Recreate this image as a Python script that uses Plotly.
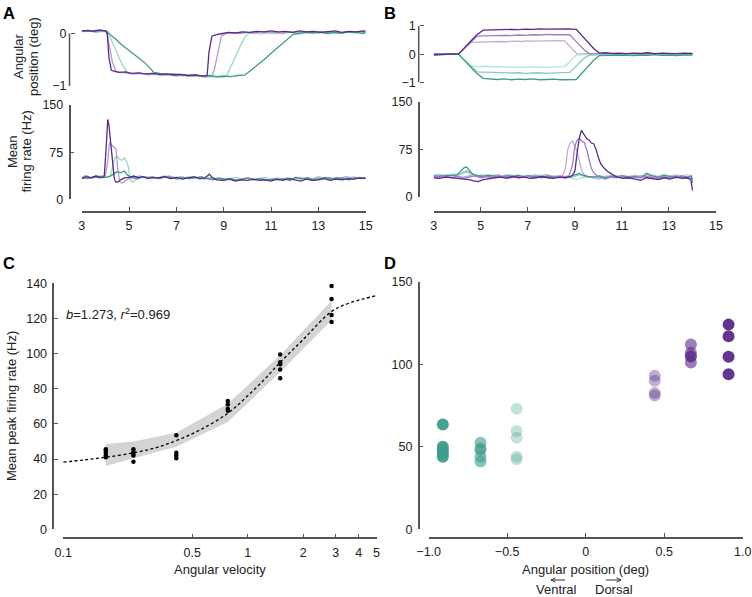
import math
import plotly.graph_objects as go

W, H = 752, 597
FONT = "Liberation Sans, Arial, Helvetica, sans-serif"
AX = "#555555"
TXT = "#222222"

# ---------------- colours ----------------
DP = "#5b2a86"   # dark purple
MP = "#9d7cc6"   # medium purple
LP = "#c3acdd"   # light purple
LT = "#b7e1d8"   # light teal
MT = "#86cbbd"   # medium teal
TE = "#3f9c8c"   # teal
A_LP = "#b39ad2"
A_LT = "#9fd6ca"

# ---------------- Panel A, angular position (deg) ----------------
a_pos_t_dp = [3.0,3.25,3.5,3.75,4.0,4.08,4.15,4.25,4.4,4.6,4.85,5.1,5.4,5.7,6.0,6.3,6.6,6.9,7.2,7.5,7.8,8.1,8.3,8.38,8.5,8.7,8.95,9.2,9.5,9.8,10.1,10.4,10.7,11.0,11.3,11.6,11.9,12.2,12.5,12.8,13.1,13.4,13.7,14.0,14.3,14.6,14.9,15.0]
a_pos_dp = [0.05,0.06,0.04,0.07,0.05,0.0,-0.45,-0.70,-0.72,-0.74,-0.73,-0.76,-0.75,-0.77,-0.76,-0.78,-0.77,-0.79,-0.78,-0.80,-0.79,-0.81,-0.80,-0.35,-0.05,-0.02,0.0,0.02,0.01,0.03,0.02,0.04,0.03,0.05,0.03,0.04,0.02,0.05,0.03,0.04,0.02,0.03,0.05,0.02,0.04,0.03,0.05,0.04]

a_pos_t_lp = [3.0,3.3,3.6,3.9,4.05,4.2,4.3,4.45,4.6,4.9,5.2,5.5,5.8,6.1,6.4,6.7,7.0,7.3,7.6,7.9,8.2,8.5,8.6,8.75,8.9,9.1,9.4,9.7,10.0,10.3,10.6,10.9,11.2,11.5,11.8,12.1,12.4,12.7,13.0,13.3,13.6,13.9,14.2,14.5,14.8,15.0]
a_pos_lp = [0.04,0.06,0.03,0.05,0.04,-0.3,-0.55,-0.73,-0.74,-0.75,-0.77,-0.76,-0.78,-0.77,-0.79,-0.78,-0.8,-0.79,-0.81,-0.8,-0.82,-0.81,-0.7,-0.38,-0.05,0.0,0.01,0.0,0.02,0.01,0.03,0.01,0.02,0.0,0.03,0.01,0.02,0.04,0.01,0.03,0.02,0.0,0.03,0.02,0.04,0.03]

a_pos_t_lt = [3.0,3.3,3.6,3.9,4.1,4.3,4.5,4.7,4.95,5.2,5.5,5.8,6.1,6.4,6.7,7.0,7.3,7.6,7.9,8.2,8.5,8.8,9.1,9.3,9.5,9.7,9.9,10.05,10.3,10.6,10.9,11.2,11.5,11.8,12.1,12.4,12.7,13.0,13.3,13.6,13.9,14.2,14.5,14.8,15.0]
a_pos_lt = [0.03,0.05,0.02,0.04,0.03,-0.18,-0.38,-0.58,-0.76,-0.77,-0.76,-0.79,-0.78,-0.8,-0.79,-0.81,-0.8,-0.82,-0.81,-0.83,-0.82,-0.84,-0.82,-0.64,-0.44,-0.24,-0.06,0.0,0.01,-0.01,0.02,0.0,0.01,0.03,0.0,0.02,0.01,0.03,0.0,0.02,0.01,0.03,0.01,0.02,0.01]

a_pos_t_te = [3.0,3.3,3.6,3.9,4.05,4.25,4.45,4.65,4.85,5.05,5.25,5.45,5.65,5.85,6.05,6.3,6.6,6.9,7.2,7.5,7.8,8.1,8.4,8.7,9.0,9.3,9.6,9.9,10.1,10.3,10.5,10.7,10.9,11.1,11.3,11.5,11.7,11.95,12.2,12.5,12.8,13.1,13.4,13.7,14.0,14.3,14.6,14.9,15.0]
a_pos_te = [0.05,0.04,0.06,0.05,0.05,-0.04,-0.11,-0.2,-0.27,-0.33,-0.4,-0.47,-0.55,-0.64,-0.74,-0.76,-0.78,-0.77,-0.79,-0.8,-0.79,-0.81,-0.8,-0.82,-0.81,-0.82,-0.8,-0.79,-0.72,-0.64,-0.57,-0.5,-0.41,-0.34,-0.26,-0.18,-0.1,-0.01,0.0,0.02,0.01,0.03,0.0,0.02,0.01,0.03,0.02,0.0,0.02]

# ---------------- Panel A, mean firing rate (Hz) ----------------
a_fr_t_dp = [3.0,3.2,3.4,3.6,3.8,3.95,4.03,4.1,4.15,4.22,4.3,4.38,4.45,4.55,4.65,4.8,5.0,5.2,5.4,5.6,5.8,6.0,6.25,6.5,6.75,7.0,7.25,7.5,7.75,8.0,8.2,8.4,8.5,8.7,9.0,9.25,9.5,9.75,10.0,10.25,10.5,10.75,11.0,11.25,11.5,11.75,12.0,12.25,12.5,12.75,13.0,13.25,13.5,13.75,14.0,14.25,14.5,14.75,15.0]
a_fr_dp = [33,36,34,37,35,36,80,127,118,95,60,32,27,28,31,34,35,37,34,36,33,35,34,36,33,35,32,34,36,33,34,40,35,31,30,32,29,31,30,32,30,31,29,32,30,33,31,29,32,30,31,33,30,32,31,33,32,34,33]

a_fr_t_lp = [3.0,3.2,3.4,3.6,3.8,4.0,4.1,4.17,4.22,4.3,4.38,4.45,4.52,4.6,4.7,4.85,5.0,5.2,5.45,5.7,5.95,6.2,6.45,6.7,6.95,7.2,7.45,7.7,7.95,8.2,8.45,8.7,8.95,9.2,9.45,9.7,9.95,10.2,10.45,10.7,10.95,11.2,11.45,11.7,11.95,12.2,12.45,12.7,12.95,13.2,13.45,13.7,13.95,14.2,14.45,14.7,15.0]
a_fr_lp = [35,38,34,37,36,38,60,90,88,85,82,80,50,28,26,30,33,35,37,34,36,33,35,37,34,36,33,35,34,32,34,33,31,33,30,32,34,31,33,32,30,33,31,34,32,35,33,31,34,33,35,32,34,36,33,35,34]

a_fr_t_lt = [3.0,3.2,3.4,3.6,3.8,4.0,4.2,4.3,4.4,4.5,4.6,4.7,4.8,4.9,4.97,5.05,5.15,5.3,5.5,5.75,6.0,6.25,6.5,6.75,7.0,7.25,7.5,7.75,8.0,8.25,8.5,8.75,9.0,9.25,9.5,9.75,10.0,10.25,10.5,10.75,11.0,11.25,11.5,11.75,12.0,12.25,12.5,12.75,13.0,13.25,13.5,13.75,14.0,14.25,14.5,14.75,15.0]
a_fr_lt = [34,36,33,35,37,35,36,50,66,68,64,62,66,60,52,30,27,31,34,36,33,35,37,34,35,33,36,34,32,35,33,34,31,33,35,32,34,31,33,35,32,34,33,31,34,32,35,33,36,34,32,35,33,34,36,33,35]

a_fr_t_te = [3.0,3.25,3.5,3.75,4.0,4.2,4.35,4.5,4.65,4.8,4.95,5.1,5.3,5.55,5.8,6.05,6.3,6.55,6.8,7.05,7.3,7.55,7.8,8.05,8.3,8.55,8.8,9.05,9.3,9.55,9.8,10.05,10.3,10.55,10.8,11.05,11.3,11.55,11.8,12.05,12.3,12.55,12.8,13.05,13.3,13.55,13.8,14.05,14.3,14.55,14.8,15.0]
a_fr_te = [35,33,36,34,35,37,40,44,42,45,38,35,33,36,34,35,33,36,34,32,35,33,34,36,33,31,34,32,33,30,32,34,31,33,30,32,31,33,30,35,32,34,31,33,35,32,34,33,31,34,33,35]

# ---------------- Panel B, angular position (deg) ----------------
b_pos_t_1 = [3.0,3.3,3.6,3.9,4.05,4.3,4.55,4.8,5.1,5.4,5.7,6.0,6.3,6.6,6.9,7.2,7.5,7.8,8.1,8.4,8.7,9.06,9.3,9.55,9.8,10.05,10.3,10.6,10.9,11.2,11.5,11.8,12.1,12.4,12.7,13.0,13.3,13.6,13.9,14.0]
b_pos_t_2 = [3.0,3.3,3.6,3.9,4.05,4.3,4.55,4.85,5.1,5.4,5.7,6.0,6.3,6.6,6.9,7.2,7.5,7.8,8.1,8.4,8.78,9.0,9.2,9.4,9.62,9.9,10.2,10.5,10.8,11.1,11.4,11.7,12.0,12.3,12.6,12.9,13.2,13.5,13.8,14.0]
b_pos_t_3 = [3.0,3.3,3.6,3.9,4.05,4.3,4.6,4.9,5.2,5.5,5.8,6.1,6.4,6.7,7.0,7.3,7.6,7.9,8.2,8.57,8.75,8.9,9.08,9.3,9.6,9.9,10.2,10.5,10.8,11.1,11.4,11.7,12.0,12.3,12.6,12.9,13.2,13.5,13.8,14.0]
b_pos_dp = [-0.03,-0.01,0.0,0.01,0.0,0.22,0.42,0.66,0.85,0.86,0.87,0.86,0.88,0.87,0.89,0.88,0.9,0.89,0.9,0.89,0.9,0.88,0.66,0.42,0.2,0.04,0.05,0.03,0.04,0.02,0.04,0.03,0.05,0.02,0.04,0.03,0.02,0.04,0.03,0.03]
b_pos_mp = [-0.02,0.0,0.01,0.0,0.0,0.2,0.41,0.64,0.65,0.66,0.65,0.67,0.66,0.68,0.67,0.69,0.68,0.7,0.69,0.7,0.69,0.5,0.32,0.15,0.02,0.01,0.02,0.0,0.01,0.02,0.0,0.01,0.02,0.01,0.0,0.02,0.01,0.0,0.02,0.01]
b_pos_lp = [0.0,0.01,-0.01,0.01,0.0,0.2,0.42,0.43,0.44,0.43,0.45,0.44,0.46,0.45,0.47,0.46,0.47,0.46,0.48,0.47,0.3,0.15,0.02,0.01,0.02,0.0,0.01,0.02,0.0,0.01,0.02,0.0,0.01,0.02,0.0,0.01,0.02,0.01,0.0,0.01]
b_pos_lt = [0.0,-0.01,0.01,0.0,0.0,-0.2,-0.42,-0.44,-0.43,-0.45,-0.44,-0.46,-0.45,-0.47,-0.46,-0.45,-0.47,-0.46,-0.45,-0.44,-0.3,-0.15,-0.03,-0.02,-0.01,-0.02,0.0,-0.01,-0.02,0.0,-0.01,-0.02,0.0,-0.01,-0.02,0.0,-0.01,-0.02,0.0,-0.01]
b_pos_mt = [0.01,0.0,-0.01,0.0,0.0,-0.2,-0.41,-0.63,-0.64,-0.65,-0.66,-0.65,-0.67,-0.66,-0.68,-0.67,-0.66,-0.68,-0.67,-0.66,-0.65,-0.48,-0.3,-0.14,-0.03,-0.02,-0.03,-0.01,-0.02,-0.03,-0.01,-0.02,-0.03,-0.01,-0.02,-0.03,-0.01,-0.02,-0.03,-0.02]
b_pos_te = [0.01,0.0,-0.01,0.0,0.0,-0.22,-0.43,-0.66,-0.86,-0.87,-0.9,-0.88,-0.91,-0.89,-0.9,-0.88,-0.91,-0.9,-0.89,-0.91,-0.9,-0.9,-0.68,-0.45,-0.22,-0.05,-0.04,-0.05,-0.03,-0.04,-0.05,-0.03,-0.04,-0.02,-0.04,-0.03,-0.05,-0.03,-0.04,-0.03]

# ---------------- Panel B, mean firing rate (Hz) ----------------
b_fr_t_teal = [3.0,3.25,3.5,3.75,4.0,4.15,4.3,4.4,4.5,4.6,4.75,4.9,5.1,5.35,5.6,5.85,6.1,6.35,6.6,6.85,7.1,7.35,7.6,7.85,8.1,8.35,8.6,8.85,9.05,9.2,9.35,9.55,9.8,10.05,10.3,10.55,10.8,11.05,11.3,11.55,11.8,12.05,12.3,12.55,12.8,13.05,13.3,13.55,13.8,13.95,14.0]
b_fr_te = [33,32,34,33,35,40,46,47,43,38,34,33,32,34,33,31,33,32,34,31,33,32,30,33,31,32,30,33,35,37,34,32,31,33,30,32,31,33,31,32,30,37,33,31,34,32,30,33,31,33,22]
b_fr_mt = [32,34,33,35,34,37,40,41,39,36,34,32,33,31,33,32,34,33,31,33,32,34,31,33,32,30,32,31,33,35,33,31,32,30,32,31,33,30,32,31,33,34,32,30,32,31,33,32,30,32,28]
b_fr_lt = [34,35,33,36,34,36,38,39,37,35,34,33,35,33,34,32,35,33,34,32,33,35,33,34,32,33,31,29,28,29,30,32,31,33,32,34,31,33,32,34,33,32,34,33,35,32,34,33,35,33,30]

b_fr_t_lp = [3.0,3.25,3.5,3.75,4.0,4.25,4.5,4.75,5.0,5.25,5.5,5.75,6.0,6.25,6.5,6.75,7.0,7.25,7.5,7.75,8.0,8.25,8.5,8.6,8.7,8.8,8.9,9.0,9.1,9.2,9.3,9.45,9.6,9.8,10.0,10.25,10.5,10.75,11.0,11.25,11.5,11.75,12.0,12.25,12.5,12.75,13.0,13.25,13.5,13.75,14.0]
b_fr_lp = [33,35,32,34,33,31,33,35,32,34,33,35,32,34,33,31,34,32,33,35,33,32,34,45,75,85,88,80,72,55,40,33,31,30,28,31,33,32,34,31,33,32,34,33,31,33,32,34,33,32,30]

b_fr_t_mp = [3.0,3.25,3.5,3.75,4.0,4.25,4.5,4.75,5.0,5.25,5.5,5.75,6.0,6.25,6.5,6.75,7.0,7.25,7.5,7.75,8.0,8.25,8.5,8.75,8.9,9.0,9.1,9.2,9.3,9.4,9.5,9.6,9.7,9.8,9.95,10.1,10.3,10.5,10.75,11.0,11.25,11.5,11.75,12.0,12.25,12.5,12.75,13.0,13.25,13.5,13.75,14.0]
b_fr_mp = [32,31,33,30,32,29,31,33,30,32,31,33,31,30,32,31,33,30,32,31,30,32,31,33,50,80,90,92,88,86,75,60,45,38,33,30,28,31,30,32,29,31,30,32,31,29,31,30,32,31,30,28]

b_fr_t_dp = [3.0,3.25,3.5,3.75,4.0,4.25,4.5,4.7,4.9,5.1,5.35,5.6,5.85,6.1,6.35,6.6,6.85,7.1,7.35,7.6,7.85,8.1,8.35,8.6,8.85,9.0,9.1,9.2,9.28,9.38,9.5,9.6,9.7,9.8,9.9,10.0,10.1,10.25,10.4,10.6,10.8,11.05,11.3,11.55,11.8,12.05,12.3,12.55,12.8,13.05,13.3,13.55,13.8,13.93,14.0]
b_fr_dp = [30,29,31,30,29,28,27,25,24,27,29,30,31,29,32,30,31,29,30,32,30,29,31,30,32,40,70,95,105,98,92,90,85,84,75,62,52,45,40,35,31,29,30,28,26,30,29,27,30,28,31,29,30,27,10]

# ---------------- Panel C ----------------
c_velocity = [0.17, 0.24, 0.41, 0.78, 1.5, 2.85]
c_peaks = [
    [45.5, 44.5, 43.5, 42, 41],
    [45.5, 44, 43, 42, 38.5],
    [53.5, 43.5, 42, 40.5],
    [73, 71, 68.5, 67.5],
    [99.5, 95, 94, 91, 86],
    [138.5, 131, 122, 118],
]
c_band_low = [36, 40.5, 47, 61, 89.5, 119]
c_band_high = [48.5, 50, 55, 71.5, 99, 130]
c_fit_x = [0.1, 0.13, 0.17, 0.24, 0.32, 0.41, 0.55, 0.78, 1.0, 1.25, 1.5, 2.0, 2.85, 3.5, 4.2, 5.0]
c_fit_y = [38.2, 39.5, 41, 43.5, 46.5, 50.5, 56.5, 66, 76, 86, 95, 108, 124, 128.5, 131, 133]
c_ticks = [0.1, 0.5, 1, 2, 3, 4, 5]
c_ticklabels = ["0.1", "0.5", "1", "2", "3", "4", "5"]

# ---------------- Panel D ----------------
d_position = [-0.91, -0.67, -0.44, 0.44, 0.67, 0.91]
d_peaks = [
    [63.5, 50, 48, 46, 44],
    [52.5, 49, 48, 44, 41],
    [73, 59.5, 55.5, 44, 42.5],
    [93, 90, 82.5, 81],
    [112, 107, 104.5, 101, 105],
    [124, 117, 104.5, 94],
]
d_colors = ["rgba(63,156,140,0.95)", "rgba(63,156,140,0.6)", "rgba(63,156,140,0.3)",
            "rgba(91,42,134,0.38)", "rgba(91,42,134,0.6)", "rgba(91,42,134,0.95)"]
d_ticks = [-1, -0.5, 0, 0.5, 1]
d_ticklabels = ["\u22121.0", "\u22120.5", "0", "0.5", "1.0"]

# ---------------- helpers (layout only) ----------------
def px_x(p):
    return p / W

def px_y(p):
    return 1 - p / H

def dom_y(v0, p0, v1, p1, lo, hi):
    s = (p1 - p0) / (v1 - v0)
    a = p0 + (lo - v0) * s
    b = p0 + (hi - v0) * s
    return sorted([px_y(a), px_y(b)])

def dom_x(v0, p0, v1, p1, lo, hi):
    s = (p1 - p0) / (v1 - v0)
    a = p0 + (lo - v0) * s
    b = p0 + (hi - v0) * s
    return sorted([px_x(a), px_x(b)])

fig = go.Figure()

def line(t, y, color, xa, ya, width=1.3):
    fig.add_trace(go.Scatter(x=t, y=y, mode="lines", xaxis=xa, yaxis=ya,
                             line=dict(color=color, width=width), hoverinfo="skip"))

# Panel A (top and bottom share the time axis x2)
line(a_pos_t_lt, a_pos_lt, A_LT, "x2", "y")
line(a_pos_t_lp, a_pos_lp, A_LP, "x2", "y")
line(a_pos_t_te, a_pos_te, TE, "x2", "y")
line(a_pos_t_dp, a_pos_dp, DP, "x2", "y")
line(a_fr_t_lt, a_fr_lt, A_LT, "x2", "y2")
line(a_fr_t_lp, a_fr_lp, A_LP, "x2", "y2")
line(a_fr_t_te, a_fr_te, TE, "x2", "y2")
line(a_fr_t_dp, a_fr_dp, DP, "x2", "y2")

# Panel B (top and bottom share the time axis x4)
line(b_pos_t_3, b_pos_lp, LP, "x4", "y3")
line(b_pos_t_3, b_pos_lt, LT, "x4", "y3")
line(b_pos_t_2, b_pos_mp, MP, "x4", "y3")
line(b_pos_t_2, b_pos_mt, MT, "x4", "y3")
line(b_pos_t_1, b_pos_te, TE, "x4", "y3")
line(b_pos_t_1, b_pos_dp, DP, "x4", "y3")
line(b_fr_t_teal, b_fr_lt, LT, "x4", "y4")
line(b_fr_t_teal, b_fr_mt, MT, "x4", "y4")
line(b_fr_t_lp, b_fr_lp, LP, "x4", "y4")
line(b_fr_t_teal, b_fr_te, TE, "x4", "y4")
line(b_fr_t_mp, b_fr_mp, MP, "x4", "y4")
line(b_fr_t_dp, b_fr_dp, DP, "x4", "y4")

# Panel C
fig.add_trace(go.Scatter(x=c_velocity + c_velocity[::-1], y=c_band_high + c_band_low[::-1],
                         mode="lines", fill="toself", fillcolor="rgb(212,212,212)",
                         line=dict(width=0, color="rgb(212,212,212)"),
                         xaxis="x5", yaxis="y5", hoverinfo="skip"))
fig.add_trace(go.Scatter(x=c_fit_x, y=c_fit_y, mode="lines", xaxis="x5", yaxis="y5",
                         line=dict(color="black", width=1.3, dash="3px,2.5px", shape="spline"),
                         hoverinfo="skip"))
cx, cy = [], []
for v, vals in zip(c_velocity, c_peaks):
    for val in vals:
        cx.append(v)
        cy.append(val)
fig.add_trace(go.Scatter(x=cx, y=cy, mode="markers", xaxis="x5", yaxis="y5",
                         marker=dict(color="black", size=4.5), cliponaxis=False))

# Panel D
for pos, vals, col in zip(d_position, d_peaks, d_colors):
    fig.add_trace(go.Scatter(x=[pos] * len(vals), y=vals, mode="markers", xaxis="x6", yaxis="y6",
                             marker=dict(color=col, size=12, line=dict(width=0)), cliponaxis=False))

tickfont = dict(family=FONT, size=12.5, color=TXT)
base = dict(showgrid=False, zeroline=False, ticks="inside", ticklen=4, tickwidth=1.4,
            tickcolor=AX, linecolor=AX, linewidth=1.5, tickfont=tickfont, anchor="free",
            ticklabelstandoff=3, fixedrange=True, automargin=False)

A_X = [81.7, 365.7]
B_X = [433.7, 716.0]
A_SP = 69.5
B_SP = 418.7

layout_axes = dict(
    yaxis=dict(base, domain=dom_y(0, 33.5, -1, 86, -1.0, 0.13), range=[-1.0, 0.13],
               tickvals=[-1, 0], ticktext=["\u22121", "0"], showline=False, position=px_x(A_SP)),
    xaxis2=dict(base, domain=[px_x(A_X[0]), px_x(A_X[1])], range=[3, 15],
                tickvals=[3, 5, 7, 9, 11, 13, 15], showline=True, position=px_y(211.7)),
    yaxis2=dict(base, domain=dom_y(0, 199.3, 150, 105, 0, 150), range=[0, 150],
                tickvals=[0, 75, 150], showline=True, position=px_x(A_SP)),
    yaxis3=dict(base, domain=dom_y(1, 26, -1, 82.3, -1.08, 1.08), range=[-1.08, 1.08],
                tickvals=[-1, 0, 1], ticktext=["\u22121", "0", "1"], showline=False, position=px_x(B_SP)),
    xaxis4=dict(base, domain=[px_x(B_X[0]), px_x(B_X[1])], range=[3, 15],
                tickvals=[3, 5, 7, 9, 11, 13, 15], showline=True, position=px_y(211.7)),
    yaxis4=dict(base, domain=dom_y(0, 196.7, 150, 102, 0, 150), range=[0, 150],
                tickvals=[0, 75, 150], showline=True, position=px_x(B_SP)),
    xaxis5=dict(base, type="log", domain=dom_x(-1, 63.3, 0, 247.7, -1, math.log10(5)),
                range=[-1, math.log10(5)], tickvals=c_ticks, ticktext=c_ticklabels,
                showline=True, position=px_y(538.3)),
    yaxis5=dict(base, domain=dom_y(0, 529.3, 140, 283.3, 0, 140), range=[0, 140],
                tickvals=[0, 20, 40, 60, 80, 100, 120, 140], showline=True, position=px_x(53.3)),
    xaxis6=dict(base, domain=[px_x(428.7), px_x(742.7)], range=[-1, 1],
                tickvals=d_ticks, ticktext=d_ticklabels, showline=True, position=px_y(537.7)),
    yaxis6=dict(base, domain=dom_y(0, 529.3, 150, 281.7, 0, 150), range=[0, 150],
                tickvals=[0, 50, 100, 150], showline=True, position=px_x(B_SP)),
)

ARROW = "#333333"
def seg(x0, y0, x1, y1, color=AX, width=1.5):
    return dict(type="line", xref="paper", yref="paper", x0=px_x(x0), x1=px_x(x1),
                y0=px_y(y0), y1=px_y(y1), line=dict(color=color, width=width))

shapes = [
    dict(type="line", xref="paper", yref="y", x0=px_x(A_SP), x1=px_x(A_SP), y0=-1, y1=0,
         line=dict(color=AX, width=1.5)),
    dict(type="line", xref="paper", yref="y3", x0=px_x(B_SP), x1=px_x(B_SP), y0=-1, y1=1,
         line=dict(color=AX, width=1.5)),
    # "Ventral" arrow (pointing left) and "Dorsal" arrow (pointing right)
    seg(551, 580, 565, 580, ARROW, 1),
    seg(551, 580, 555.5, 577.8, ARROW, 1),
    seg(551, 580, 555.5, 582.2, ARROW, 1),
    seg(606, 580, 621, 580, ARROW, 1),
    seg(621, 580, 616.5, 577.8, ARROW, 1),
    seg(621, 580, 616.5, 582.2, ARROW, 1),
]

def txt(text, x, y, size=13, xanchor="center", yanchor="middle", angle=0, bold=False):
    return dict(text=("<b>%s</b>" % text) if bold else text, x=px_x(x), y=px_y(y),
                xref="paper", yref="paper", showarrow=False, xanchor=xanchor, yanchor=yanchor,
                textangle=angle, font=dict(family=FONT, size=size, color=TXT if not bold else "black"))

annotations = [
    txt("A", 1, 13, size=16.5, xanchor="left", bold=True),
    txt("B", 382, 13, size=16.5, xanchor="left", bold=True),
    txt("C", 1, 263, size=16.5, xanchor="left", bold=True),
    txt("D", 382, 263, size=16.5, xanchor="left", bold=True),
    txt("Angular", 19, 57, angle=-90),
    txt("position (deg)", 34, 57, angle=-90),
    txt("Mean", 12, 151, angle=-90),
    txt("firing rate (Hz)", 25.5, 151, angle=-90),
    txt("Mean peak firing rate (Hz)", 11, 406, angle=-90),
    txt("Angular velocity", 220, 569),
    txt("Angular position (deg)", 585, 569),
    txt("Ventral", 556, 589),
    txt("Dorsal", 614, 589),
    txt("<i>b</i>=1.273, <i>r</i><sup>2</sup>=0.969", 64, 314, xanchor="left"),
]

fig.update_layout(
    width=W, height=H, margin=dict(l=0, r=0, t=0, b=0, pad=0, autoexpand=False),
    paper_bgcolor="white", plot_bgcolor="white", showlegend=False,
    font=dict(family=FONT, size=12.5, color=TXT),
    shapes=shapes, annotations=annotations, **layout_axes,
)

fig.write_html("out.html")
